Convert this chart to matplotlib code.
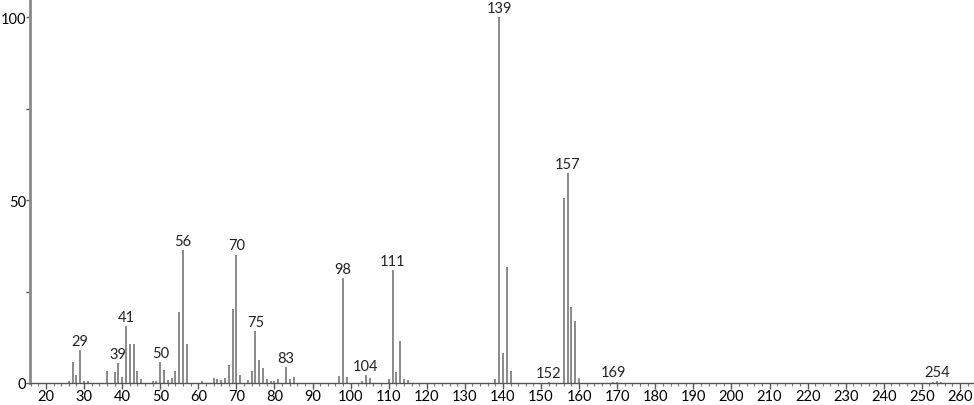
import numpy as np
import matplotlib.pyplot as plt
from matplotlib.ticker import MultipleLocator

# m/z and relative intensity
mz = [26, 27, 28, 29, 30, 31, 36, 38, 39, 40, 41, 42, 43, 44, 45, 48, 49,
      50, 51, 52, 53, 54, 55, 56, 57, 61, 64, 65, 66, 67, 68, 69, 70, 71,
      73, 74, 75, 76, 77, 78, 79, 80, 81, 83, 84, 85, 97, 98, 99, 103, 104,
      105, 110, 111, 112, 113, 114, 115, 138, 139, 140, 141, 142, 152, 156,
      157, 158, 159, 160, 169, 170, 253, 254, 255]
intensity = [0.6, 5.8, 2.2, 9.0, 0.5, 0.5, 3.3, 2.9, 5.5, 1.6, 15.6, 10.6,
             10.6, 3.2, 1.1, 0.5, 0.5, 5.8, 3.6, 0.9, 1.4, 3.2, 19.3, 36.3,
             10.7, 0.5, 1.4, 1.2, 0.7, 1.5, 5.0, 20.3, 35.1, 2.3, 0.7, 3.3,
             14.2, 6.4, 4.2, 1.2, 0.6, 0.5, 1.2, 4.3, 1.0, 1.7, 1.8, 28.7,
             1.6, 0.5, 2.1, 1.3, 1.1, 30.9, 3.1, 11.5, 1.1, 0.7, 1.1, 100.0,
             8.2, 31.6, 3.2, 0.3, 50.6, 57.3, 20.7, 17.0, 1.5, 0.4, 0.3,
             0.3, 0.5, 0.3]
labeled = [29, 39, 41, 50, 56, 70, 75, 83, 98, 104, 111, 139, 152, 157, 169, 254]

plt.rcParams['font.family'] = ['Lato', 'DejaVu Sans']

fig = plt.figure(figsize=(9.74, 4.06), dpi=100)
ax = fig.add_axes([0.0308, 0.0542, 0.9692, 0.9458])

bar_color = '#8a8a8a'
ax.vlines(mz, 0, intensity, colors=bar_color, linewidth=1.4)

lookup = dict(zip(mz, intensity))
for m in labeled:
    ax.text(m, lookup[m] + 0.6, str(m), ha='center', va='bottom',
            fontsize=10.5, color='#222222')

ax.set_xlim(15.8, 263.7)
ax.set_ylim(0, 105)

ax.xaxis.set_minor_locator(MultipleLocator(2))
ax.set_xticks(np.arange(20, 261, 10))
ax.set_yticks([0, 25, 50, 75, 100])
ax.set_yticklabels(['0', '', '50', '', '100'])

for s in ['top', 'right']:
    ax.spines[s].set_visible(False)
ax.spines['left'].set_color('#8a8a8a')
ax.spines['left'].set_linewidth(2)
ax.spines['bottom'].set_color('#555555')
ax.spines['bottom'].set_linewidth(1)

ax.tick_params(axis='x', which='major', direction='out', length=4,
               width=1, color='#555555', labelsize=10.5, pad=0.5)
ax.tick_params(axis='x', which='minor', direction='out', length=2,
               width=0.8, color='#777777')
ax.tick_params(axis='y', which='major', direction='out', length=3,
               width=1, color='#555555', labelsize=10.5, pad=0)

fig.savefig('out.png', dpi=100)
